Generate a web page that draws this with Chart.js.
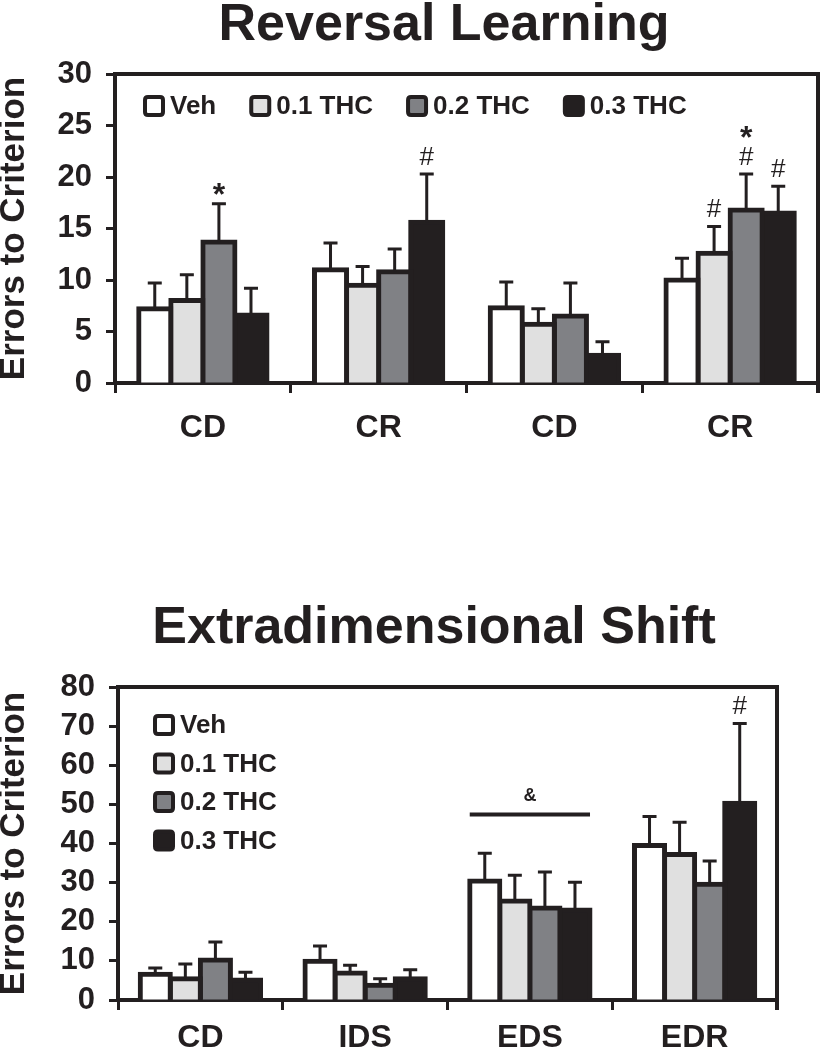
<!DOCTYPE html>
<html>
<head>
<meta charset="utf-8">
<script src="https://cdn.jsdelivr.net/npm/chart.js@4.4.1/dist/chart.umd.min.js"></script>
<style>
body { margin: 0; background: #fff; width: 821px; height: 1050px; position: relative; overflow: hidden; }
canvas { position: absolute; left: 0; }
#rev { top: 0; }
#shift { top: 560px; }
</style>
</head>
<body>
<canvas id="rev" width="821" height="460"></canvas>
<canvas id="shift" width="821" height="490"></canvas>
<script>
// groups and colours
var groups = ["Veh", "0.1 THC", "0.2 THC", "0.3 THC"];
var fills = ["#ffffff", "#e0e0e0", "#808185", "#231f20"];

// Reversal Learning
var revLabels = ["CD", "CR", "CD", "CR"];
var revVeh = [7.2, 11.0, 7.3, 10.0];
var rev01 = [8.0, 9.5, 5.7, 12.6];
var rev02 = [13.7, 10.8, 6.5, 16.8];
var rev03 = [6.6, 15.6, 2.7, 16.5];
var revVehErr = [2.5, 2.6, 2.5, 2.1];
var rev01Err = [2.5, 1.8, 1.5, 2.6];
var rev02Err = [3.7, 2.2, 3.2, 3.5];
var rev03Err = [2.6, 4.7, 1.3, 2.6];
// marks above each bar, read from bottom up
var revMarks = [["", "", "", ""], ["", "", "", "#"], ["*", "", "", "#*"], ["", "#", "", "#"]];

// Extradimensional Shift
var shiftLabels = ["CD", "IDS", "EDS", "EDR"];
var shiftVeh = [6.6, 9.9, 30.4, 39.5];
var shift01 = [5.4, 6.9, 25.3, 37.2];
var shift02 = [10.2, 3.8, 23.5, 29.6];
var shift03 = [5.1, 5.4, 23.0, 50.3];
var shiftVehErr = [1.6, 3.9, 7.1, 7.4];
var shift01Err = [3.8, 2.0, 6.6, 8.2];
var shift02Err = [4.6, 1.6, 9.2, 5.9];
var shift03Err = [2.0, 2.3, 7.1, 20.4];
var shiftMarks = [["", "", "", ""], ["", "", "", ""], ["", "", "", ""], ["", "", "", "#"]];
var groupMarkCat = 2;
var groupMarkText = "&";
var groupMarkLevel = 47.4;

var ink = "#231f20";
var fam = "'Liberation Sans', Arial, Helvetica, sans-serif";
Chart.defaults.font.family = fam;
Chart.defaults.color = ink;

function box(ctx, x, y, w, h, r) {
    ctx.beginPath();
    ctx.moveTo(x + r, y);
    ctx.lineTo(x + w - r, y);
    ctx.quadraticCurveTo(x + w, y, x + w, y + r);
    ctx.lineTo(x + w, y + h - r);
    ctx.quadraticCurveTo(x + w, y + h, x + w - r, y + h);
    ctx.lineTo(x + r, y + h);
    ctx.quadraticCurveTo(x, y + h, x, y + h - r);
    ctx.lineTo(x, y + r);
    ctx.quadraticCurveTo(x, y, x + r, y);
    ctx.closePath();
}

var extras = {
    id: "extras",
    afterDatasetsDraw: function(chart, args, o) {
        var ctx = chart.ctx;
        var ys = chart.scales.y;
        ctx.save();
        ctx.strokeStyle = ink;
        ctx.fillStyle = ink;
        ctx.textAlign = "center";
        ctx.textBaseline = "alphabetic";
        chart.data.datasets.forEach(function(ds, i) {
            var meta = chart.getDatasetMeta(i);
            meta.data.forEach(function(bar, j) {
                var top = ys.getPixelForValue(ds.data[j] + o.errs[i][j]);
                ctx.lineWidth = 3;
                ctx.beginPath();
                ctx.moveTo(bar.x, bar.y);
                ctx.lineTo(bar.x, top);
                ctx.moveTo(bar.x - 7, top);
                ctx.lineTo(bar.x + 7, top);
                ctx.stroke();
                var pos = top;
                var m = o.marks[i][j];
                for (var k = 0; k < m.length; k++) {
                    if (m[k] == "#") {
                        ctx.font = "26px " + fam;
                        ctx.fillText("#", bar.x, pos - 9);
                        pos = pos - 27;
                    } else {
                        ctx.font = "bold 32px " + fam;
                        ctx.fillText("*", bar.x, pos + 1);
                        pos = pos - 22;
                    }
                }
            });
        });
        if (o.group) {
            var first = chart.getDatasetMeta(0).data[o.group.cat];
            var last = chart.getDatasetMeta(chart.data.datasets.length - 1).data[o.group.cat];
            var ly = ys.getPixelForValue(o.group.level);
            var x0 = first.x - first.width / 2, x1 = last.x + last.width / 2;
            ctx.lineWidth = 4;
            ctx.beginPath();
            ctx.moveTo(x0, ly);
            ctx.lineTo(x1, ly);
            ctx.stroke();
            ctx.font = "bold 18px " + fam;
            ctx.fillText(o.group.text, (x0 + x1) / 2, ly - 14);
        }
        ctx.restore();
    },
    afterDraw: function(chart, args, o) {
        var ctx = chart.ctx;
        var a = chart.chartArea;
        ctx.save();
        // frame
        ctx.strokeStyle = ink;
        ctx.lineWidth = 4;
        ctx.beginPath();
        ctx.moveTo(a.left, a.top);
        ctx.lineTo(a.right, a.top);
        ctx.lineTo(a.right, a.bottom + 10);
        ctx.stroke();
        // title
        ctx.fillStyle = ink;
        ctx.textAlign = "center";
        ctx.textBaseline = "alphabetic";
        ctx.font = "bold 52px " + fam;
        ctx.fillText(o.title, o.titleX, o.titleY);
        // legend
        ctx.font = "bold 26px " + fam;
        ctx.textAlign = "left";
        ctx.textBaseline = "middle";
        var lx = a.left + o.legend.x, ly = a.top + o.legend.y;
        chart.data.datasets.forEach(function(ds, i) {
            box(ctx, lx + 2, ly - 9, 18, 18, 3);
            ctx.fillStyle = ds.backgroundColor;
            ctx.fill();
            ctx.lineWidth = 4;
            ctx.stroke();
            ctx.fillStyle = ink;
            ctx.fillText(ds.label, lx + 27, ly + 1);
            if (o.legend.row) {
                lx = lx + 27 + ctx.measureText(ds.label).width + 33;
            } else {
                ly = ly + o.legend.step;
            }
        });
        ctx.restore();
    }
};

function makeChart(id, labels, series, errs, marks, yMax, yStep, yw, xh, pad, xpad, extra) {
    var datasets = series.map(function(d, i) {
        return {
            label: groups[i],
            data: d,
            backgroundColor: fills[i],
            borderColor: ink,
            borderWidth: 5,
            borderSkipped: "start",
            inflateAmount: 2.5,
            barPercentage: 1,
            categoryPercentage: 0.73
        };
    });
    extra.errs = errs;
    extra.marks = marks;
    return new Chart(document.getElementById(id), {
        type: "bar",
        data: { labels: labels, datasets: datasets },
        plugins: [extras],
        options: {
            responsive: false,
            animation: false,
            layout: { padding: pad },
            plugins: {
                legend: { display: false },
                tooltip: { enabled: false },
                extras: extra
            },
            scales: {
                x: {
                    z: 1,
                    grid: { offset: true, drawOnChartArea: false, tickLength: 10, tickWidth: 3, tickColor: ink, color: ink },
                    border: { color: ink, width: 4 },
                    ticks: { color: ink, padding: xpad, autoSkip: false, font: { size: 32, weight: "bold" } },
                    afterFit: function(s) { s.height = xh; }
                },
                y: {
                    min: 0,
                    max: yMax,
                    grid: { drawOnChartArea: false, tickLength: 9, tickWidth: 3, tickColor: ink, color: ink },
                    border: { color: ink, width: 4 },
                    ticks: { stepSize: yStep, autoSkip: false, color: ink, padding: 14, font: { size: 31, weight: "bold" } },
                    title: { display: true, text: "Errors to Criterion", color: ink, padding: 0, font: { size: 35, weight: "bold", lineHeight: 0.8 } },
                    afterFit: function(s) { s.width = yw; }
                }
            }
        }
    });
}

makeChart("rev", revLabels, [revVeh, rev01, rev02, rev03],
    [revVehErr, rev01Err, rev02Err, rev03Err], revMarks,
    30, 5, 115, 77, { top: 74, right: 3, left: 0, bottom: 0 }, 16,
    { title: "Reversal Learning", titleX: 444, titleY: 40, legend: { row: true, x: 28, y: 32 } });

makeChart("shift", shiftLabels, [shiftVeh, shift01, shift02, shift03],
    [shiftVehErr, shift01Err, shift02Err, shift03Err], shiftMarks,
    80, 10, 118, 50, { top: 127, right: 44, left: 0, bottom: 0 }, 9,
    { title: "Extradimensional Shift", titleX: 434, titleY: 83, legend: { row: false, x: 35, y: 38, step: 38.5 },
      group: { cat: groupMarkCat, text: groupMarkText, level: groupMarkLevel } });
</script>
</body>
</html>
